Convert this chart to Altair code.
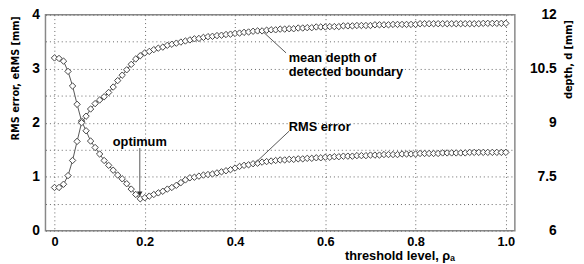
import altair as alt
import pandas as pd

# threshold levels (x)
threshold = [round(i * 0.01, 2) for i in range(101)]

# RMS error [mm] (left axis)
rms_error = [
    3.20, 3.19, 3.14, 2.95, 2.68, 2.34, 2.03, 1.85, 1.66, 1.54,
    1.42, 1.30, 1.21, 1.12, 1.03, 0.96, 0.87, 0.77, 0.67, 0.59,
    0.61, 0.64, 0.67, 0.70, 0.73, 0.77, 0.80, 0.84, 0.89, 0.94,
    0.98, 0.99, 1.01, 1.03, 1.04, 1.05, 1.07, 1.09, 1.11, 1.13,
    1.16, 1.19, 1.21, 1.22, 1.24, 1.25, 1.27, 1.28, 1.29, 1.30,
    1.31, 1.31, 1.32, 1.32, 1.33, 1.33, 1.34, 1.34, 1.35, 1.35,
    1.36, 1.36, 1.37, 1.37, 1.38, 1.38, 1.38, 1.39, 1.39, 1.39,
    1.40, 1.40, 1.40, 1.41, 1.41, 1.41, 1.41, 1.42, 1.42, 1.42,
    1.42, 1.43, 1.43, 1.43, 1.43, 1.43, 1.44, 1.44, 1.44, 1.44,
    1.44, 1.44, 1.45, 1.45, 1.45, 1.45, 1.45, 1.45, 1.45, 1.45,
    1.45,
]

# mean depth of detected boundary [mm] (right axis)
depth_mm = [
    7.20, 7.20, 7.29, 7.53, 7.95, 8.48, 9.00, 9.18, 9.38, 9.53,
    9.63, 9.72, 9.84, 9.99, 10.17, 10.32, 10.47, 10.62, 10.77, 10.86,
    10.94, 10.98, 11.03, 11.07, 11.10, 11.15, 11.18, 11.21, 11.24, 11.27,
    11.30, 11.33, 11.34, 11.37, 11.39, 11.40, 11.42, 11.43, 11.45, 11.46,
    11.48, 11.49, 11.51, 11.52, 11.54, 11.55, 11.55, 11.57, 11.58, 11.58,
    11.60, 11.60, 11.61, 11.61, 11.63, 11.63, 11.64, 11.64, 11.66, 11.66,
    11.66, 11.67, 11.67, 11.67, 11.69, 11.69, 11.69, 11.70, 11.70, 11.70,
    11.70, 11.72, 11.72, 11.72, 11.72, 11.73, 11.73, 11.73, 11.73, 11.73,
    11.73, 11.75, 11.75, 11.75, 11.75, 11.75, 11.75, 11.75, 11.75, 11.75,
    11.75, 11.75, 11.75, 11.75, 11.75, 11.76, 11.76, 11.76, 11.76, 11.76,
    11.76,
]

x_ticks = [0, 0.2, 0.4, 0.6, 0.8, 1.0]
left_ticks = [0, 0.5, 1, 1.5, 2, 2.5, 3, 3.5, 4]
right_ticks = [6, 7.5, 9, 10.5, 12]

# annotations (in left-axis units)
label_text = ["optimum", "RMS error", "mean depth of", "detected boundary"]
label_x = [0.189, 0.519, 0.519, 0.519]
label_y = [1.635, 1.91, 3.20, 2.93]
label_align = ["center", "left", "left", "left"]
leader_x = [0.189, 0.520, 0.513]
leader_y = [1.53, 1.845, 3.293]
leader_x2 = [0.189, 0.441, 0.460]
leader_y2 = [0.68, 1.224, 3.700]
arrow_x = [0.189]
arrow_y = [0.68]

df = pd.DataFrame({"x": threshold, "rms": rms_error, "depth": depth_mm})
lab = pd.DataFrame({"x": label_x, "y": label_y, "t": label_text, "a": label_align})
lead = pd.DataFrame({"x": leader_x, "y": leader_y, "x2": leader_x2, "y2": leader_y2})
arr = pd.DataFrame({"x": arrow_x, "y": arrow_y})

BOLD = "Liberation Sans"
NARROW = "Liberation Sans Narrow, Arial Narrow, DejaVu Sans Condensed, sans-serif"

X = alt.X(
    "x:Q",
    scale=alt.Scale(domain=[-0.02, 1.02], nice=False, zero=False),
    axis=alt.Axis(
        values=x_ticks,
        labelExpr="datum.value == 0 ? '0' : format(datum.value, '.1f')",
        grid=True, gridDash=[1, 3], gridColor="#666", gridWidth=1,
        ticks=False, domain=False,
        labelFont=BOLD, labelFontWeight="bold", labelFontSize=13,
        labelColor="black", labelPadding=5,
        title="threshold level, ρₐ", titleFont=BOLD, titleFontWeight="bold",
        titleFontSize=13, titleColor="black",
        titleX=359, titleY=25, titleAlign="center", titleBaseline="middle",
    ),
)

left_scale = alt.Scale(domain=[0, 4], nice=False, zero=False)
YL_axis = alt.Axis(
    values=left_ticks,
    labelExpr="datum.value % 1 == 0 ? toString(datum.value) : ''",
    grid=True, gridDash=[1, 3], gridColor="#666", gridWidth=1,
    ticks=False, domain=False,
    labelFont=BOLD, labelFontWeight="bold", labelFontSize=14,
    labelColor="black", labelPadding=6,
    title="RMS error, eRMS [mm]", titleFont=NARROW, titleFontWeight="bold",
    titleFontSize=11, titleColor="black", titleAngle=270,
    titleX=-30, titleY=64, titleAlign="center", titleBaseline="middle",
)

MARK_SIZE = 42

rms_line = alt.Chart(df).mark_line(color="#555", strokeWidth=1).encode(
    x=X, y=alt.Y("rms:Q", scale=left_scale, axis=YL_axis)
)
rms_pts = alt.Chart(df).mark_point(
    shape="diamond", filled=True, fill="white", stroke="#444",
    strokeWidth=1, size=MARK_SIZE, opacity=1
).encode(x=X, y=alt.Y("rms:Q", scale=left_scale, axis=YL_axis))

leaders = alt.Chart(lead).mark_rule(color="#555", strokeWidth=1).encode(
    x=X, y=alt.Y("y:Q", scale=left_scale, axis=YL_axis), x2="x2:Q", y2="y2:Q"
)
arrowhead = alt.Chart(arr).mark_point(
    shape="triangle-down", filled=True, color="#333", size=30, opacity=1
).encode(x=X, y=alt.Y("y:Q", scale=left_scale, axis=YL_axis))

labels_left = alt.Chart(lab).transform_filter("datum.a == 'left'").mark_text(
    align="left", baseline="middle", font=BOLD, fontWeight="bold",
    fontSize=13, color="black"
).encode(x=X, y=alt.Y("y:Q", scale=left_scale, axis=YL_axis), text="t:N")
labels_center = alt.Chart(lab).transform_filter("datum.a == 'center'").mark_text(
    align="center", baseline="middle", font=BOLD, fontWeight="bold",
    fontSize=13, color="black"
).encode(x=X, y=alt.Y("y:Q", scale=left_scale, axis=YL_axis), text="t:N")

right_scale = alt.Scale(domain=[6, 12], nice=False, zero=False)
YR_axis = alt.Axis(
    orient="right", values=right_ticks, grid=False, ticks=False, domain=False,
    labelExpr="toString(datum.value)",
    labelFont=BOLD, labelFontWeight="bold", labelFontSize=14,
    labelColor="black", labelAlign="right", labelPadding=42,
    title="depth, d [mm]", titleFont=NARROW, titleFontWeight="bold",
    titleFontSize=11, titleColor="black", titleAngle=270,
    titleX=54, titleY=45, titleAlign="center", titleBaseline="middle",
)
depth_line = alt.Chart(df).mark_line(color="#555", strokeWidth=1).encode(
    x=X, y=alt.Y("depth:Q", scale=right_scale, axis=YR_axis)
)
depth_pts = alt.Chart(df).mark_point(
    shape="diamond", filled=True, fill="white", stroke="#444",
    strokeWidth=1, size=MARK_SIZE, opacity=1
).encode(x=X, y=alt.Y("depth:Q", scale=right_scale, axis=YR_axis))

left = alt.layer(rms_line, rms_pts, leaders, arrowhead, labels_left, labels_center)
right = alt.layer(depth_line, depth_pts)

chart = alt.layer(left, right).resolve_scale(y="independent").properties(
    width=476, height=219,
    autosize=alt.AutoSizeParams(type="none"),
    padding={"left": 38, "top": 5, "right": 62, "bottom": 32},
    background="white",
).configure_view(stroke="#888", strokeWidth=1.5)

chart.save("out.html", embed_options={"renderer": "svg", "actions": False})
